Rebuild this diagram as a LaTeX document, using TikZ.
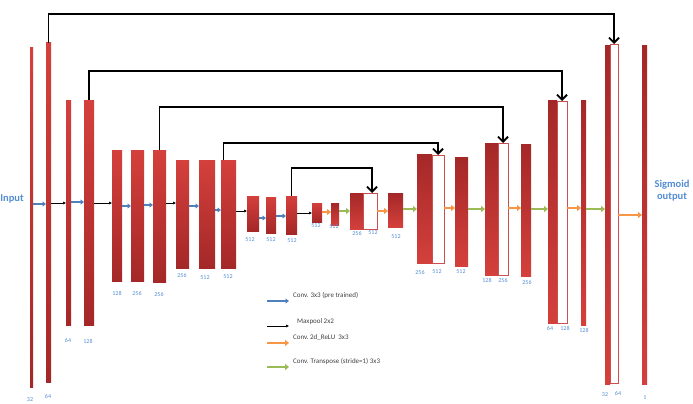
\documentclass[tikz,border=0pt]{standalone}
\usepackage{fontspec}
\setmainfont{Carlito}
\usepackage{tikz}
\usetikzlibrary{arrows.meta, positioning}
\definecolor{barlight}{RGB}{212,64,60}
\definecolor{bardark}{RGB}{164,40,40}
\definecolor{catred}{RGB}{204,78,78}
\definecolor{txtblue}{RGB}{84,141,212}
\definecolor{convblue}{RGB}{79,129,189}
\definecolor{reluorange}{RGB}{247,150,70}
\definecolor{trgreen}{RGB}{155,187,89}

\begin{document}
\begin{tikzpicture}[
    x=1pt, y=-1pt,
    bar/.style={inner sep=0pt, outer sep=0pt, anchor=north west},
    wh/.style 2 args={minimum width=#1pt, minimum height=#2pt},
    enc/.style={bar, top color=barlight, bottom color=bardark},
    dec/.style={bar, top color=bardark, bottom color=barlight},
    cat/.style={bar, draw=catred, line width=0.9pt, fill=white},
    num/.style={font=\fontsize{6}{7}\selectfont, text=txtblue, inner sep=0pt},
    side/.style={font=\fontsize{10.5}{12}\selectfont\bfseries, text=txtblue, align=center},
    legtxt/.style={font=\fontsize{7}{8}\selectfont, text=black!75, anchor=west, inner sep=0pt},
    skip/.style={line width=1.8pt, -{Straight Barb[length=5pt, width=10pt]}},
    conv/.style={convblue, line width=1.6pt, -{Triangle[length=3.5pt, width=5pt]}},
    pool/.style={black, line width=0.5pt, -{Latex[length=3pt, width=3pt]}},
    relu/.style={reluorange, line width=2pt, -{Triangle[length=4pt, width=6pt]}},
    trans/.style={trgreen, line width=2pt, -{Triangle[length=4pt, width=6pt]}},
]
\useasboundingbox (0,0) rectangle (693,404);

% encoder
\node[enc, wh={3}{339}] (b1) at (30,48) {};
\node[enc, wh={5}{339}] (b2) at (46,43) {};
\node[enc, wh={5}{225}] (b3) at (66,100) {};
\node[enc, wh={10}{225}] (b4) at (84,100) {};
\node[enc, wh={10}{131}] (b5) at (112,150) {};
\node[enc, wh={13}{131}] (b6) at (131,150) {};
\node[enc, wh={13}{132}] (b7) at (153,150) {};
\node[enc, wh={13}{108}] (b8) at (176,160) {};
\node[enc, wh={16}{108}] (b9) at (199,160) {};
\node[enc, wh={15}{108}] (b10) at (221,160) {};
\node[enc, wh={12}{35}] (b11) at (247,196) {};
\node[enc, wh={10}{36}] (b12) at (266,197) {};
\node[enc, wh={11}{38}] (b13) at (286,196) {};
\node[enc, wh={10}{19}] (b14) at (312,203) {};

% decoder
\node[dec, wh={8}{22}] (b15) at (331,203) {};
\node[dec, wh={13}{36}] (b16) at (350,193) {};
\node[cat, wh={14}{36}] (b16b) at (363,193) {};
\node[dec, wh={15}{34}] (b17) at (388,193) {};
\node[dec, wh={15}{109}] (b18) at (417,154) {};
\node[cat, wh={12}{108}] (b18b) at (432,155) {};
\node[dec, wh={13}{109}] (b19) at (455,157) {};
\node[dec, wh={13}{132}] (b20) at (485,143) {};
\node[cat, wh={10}{132}] (b20b) at (498,143) {};
\node[dec, wh={10}{132}] (b21) at (521,144) {};
\node[dec, wh={9}{223}] (b22) at (548,100) {};
\node[cat, wh={10}{222}] (b22b) at (557,101) {};
\node[dec, wh={5}{225}] (b23) at (581,100) {};
\node[dec, wh={5}{338}] (b24) at (605,46) {};
\node[cat, wh={8}{339}] (b24b) at (610,44) {};
\node[dec, wh={5}{338}] (b25) at (642,46) {};

% channel counts
\node[num] (n1) at (30,400) {32};
\node[num] (n2) at (48,396) {64};
\node[num] (n3) at (68,340) {64};
\node[num] (n4) at (88,341) {128};
\node[num] (n5) at (117,293) {128};
\node[num] (n6) at (137,293) {256};
\node[num] (n7) at (159,294) {256};
\node[num] (n8) at (182,275) {256};
\node[num] (n9) at (205,278) {512};
\node[num] (n10) at (228,277) {512};
\node[num] (n11) at (250,240) {512};
\node[num] (n12) at (271,240) {512};
\node[num] (n13) at (292,241) {512};
\node[num] (n14) at (316,226) {512};
\node[num] (n15) at (334,227) {512};
\node[num] (n16) at (357,233) {256};
\node[num] (n16b) at (373,233) {512};
\node[num] (n17) at (396,237) {512};
\node[num] (n18) at (420,272) {256};
\node[num] (n18b) at (437,272) {512};
\node[num] (n19) at (461,272) {512};
\node[num] (n20) at (487,280) {128};
\node[num] (n20b) at (503,280) {256};
\node[num] (n21) at (527,282) {256};
\node[num] (n22) at (550,328) {64};
\node[num] (n22b) at (565,328) {128};
\node[num] (n23) at (584,330) {128};
\node[num] (n24) at (605,395) {32};
\node[num] (n24b) at (618,393) {64};
\node[num] (n25) at (645,398) {1};

\node[side] (inp) at (12,199) {Input};
\node[side] (outp) at (672,191) {Sigmoid\\output};

% skip connections
\draw[skip] (b2.north) -- ++(0,-29) -| (b24b.north);
\draw[skip] (b4.north) -- ++(0,-29) -| (b22b.north);
\draw[skip] (b7.north) -- ++(0,-43) -| (b20b.north);
\draw[skip] ([xshift=-5pt]b10.north) -- ++(0,-17) -| (b18b.north);
\draw[skip] (b13.north) -- ++(0,-28) -| ([xshift=2pt]b16b.north);

% flow
\draw[conv] (b1.east |- 0,204) -- (b2.west |- 0,204);
\draw[pool] (b2.east |- 0,203) -- (b3.west |- 0,203);
\draw[conv] (b3.east |- 0,202) -- (b4.west |- 0,202);
\draw[pool] (b4.east |- 0,203) -- (b5.west |- 0,203);
\draw[conv] (b5.east |- 0,206) -- (b6.west |- 0,206);
\draw[conv] (b6.east |- 0,205) -- (b7.west |- 0,205);
\draw[pool] (b7.east |- 0,203) -- (b8.west |- 0,203);
\draw[conv] (b8.east |- 0,206) -- (b9.west |- 0,206);
\draw[conv] (b9.east |- 0,210) -- (b10.west |- 0,210);
\draw[pool] (b10.east |- 0,211) -- (b11.west |- 0,211);
\draw[conv] (b11.east |- 0,218) -- (b12.west |- 0,218);
\draw[conv] (b12.east |- 0,216) -- (b13.west |- 0,216);
\draw[pool] (b13.east |- 0,213) -- (b14.west |- 0,213);
\draw[relu] (b14.east |- 0,212) -- (b15.west |- 0,212);
\draw[trans] (b15.east |- 0,211) -- (b16.west |- 0,211);
\draw[relu] (b16b.east |- 0,211) -- (b17.west |- 0,211);
\draw[trans] (b17.east |- 0,209) -- (b18.west |- 0,209);
\draw[relu] (b18b.east |- 0,208) -- (b19.west |- 0,208);
\draw[trans] (b19.east |- 0,209) -- (b20.west |- 0,209);
\draw[relu] (b20b.east |- 0,208) -- (b21.west |- 0,208);
\draw[trans] (b21.east |- 0,209) -- (b22.west |- 0,209);
\draw[relu] (b22b.east |- 0,208) -- (b23.west |- 0,208);
\draw[trans] (b23.east |- 0,209) -- (b24.west |- 0,209);
\draw[relu] (b24b.east |- 0,215) -- (b25.west |- 0,215);

% legend
\coordinate (lg1a) at (267,301); \coordinate (lg1b) at (289,301);
\coordinate (lg2a) at (267,326); \coordinate (lg2b) at (289,326);
\coordinate (lg3a) at (267,343); \coordinate (lg3b) at (289,343);
\coordinate (lg4a) at (267,367); \coordinate (lg4b) at (289,367);
\draw[conv] (lg1a) -- (lg1b);
\draw[pool] (lg2a) -- (lg2b);
\draw[relu] (lg3a) -- (lg3b);
\draw[trans] (lg4a) -- (lg4b);
\node[legtxt] (lgt1) at (293,296) {Conv. 3x3 (pre trained)};
\node[legtxt] (lgt2) at (297,322) {Maxpool 2x2};
\node[legtxt] (lgt3) at (293,338) {Conv.\ 2d\_ReLU\ \ 3x3};
\node[legtxt] (lgt4) at (293,361) {Conv. Transpose (stride=1) 3x3};
\end{tikzpicture}
\end{document}
